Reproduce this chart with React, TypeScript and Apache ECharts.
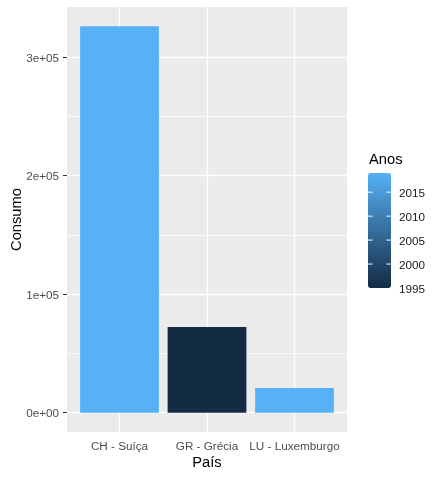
import { useEffect, useRef } from "react"
import * as echarts from "echarts"

// dados
const paises = ["CH - Suíça", "GR - Grécia", "LU - Luxemburgo"]
const consumo = [326000, 72200, 20800]
const anos = [2019, 1995, 2019]
const yTicks = [0, 100000, 200000, 300000]
const anosTicks = [1995, 2000, 2005, 2010, 2015]
const anosMin = 1995
const anosMax = 2019

const FONT = "'Liberation Sans', Arial, sans-serif"

// layout (px)
const W = 442
const H = 477
const gridLeft = 67
const gridRight = 95
const gridTop = 7
const gridBottom = 45
const cbLeft = 368
const cbTop = 173
const cbW = 23
const cbH = 115

function sci(v: number) {
    if (v === 0) return "0e+00"
    const e = Math.floor(Math.log10(Math.abs(v)))
    const m = Math.round((v / 10 ** e) * 100) / 100
    return `${m}e+${String(e).padStart(2, "0")}`
}

export default function App() {
    const chartRef = useRef<HTMLDivElement>(null)

    useEffect(() => {
        if (!chartRef.current) return
        const chart = echarts.init(chartRef.current, undefined, { renderer: "svg" })

        // expansão estilo ggplot
        const maxV = Math.max(...consumo)
        const yMin = -maxV * 0.05
        const yMax = maxV * 1.05
        const xMin = 0.4
        const xMax = paises.length + 0.6
        const xPos = paises.map((_, i) => i + 1)
        const panelW = W - gridLeft - gridRight
        const barWidth = (0.9 * panelW) / (xMax - xMin)
        const minorTicks = yTicks.slice(1).map((t, i) => (t + yTicks[i]) / 2)

        const yearToY = (a: number) => cbTop + ((anosMax - a) / (anosMax - anosMin)) * cbH

        const gridLines: any[] = [
            ...minorTicks.map((v) => ({ yAxis: v, lineStyle: { color: "#fff", width: 0.7, type: "solid" } })),
            ...yTicks.map((v) => ({ yAxis: v, lineStyle: { color: "#fff", width: 1.4, type: "solid" } })),
            ...xPos.map((v) => ({ xAxis: v, lineStyle: { color: "#fff", width: 1.4, type: "solid" } })),
        ]

        const legendGraphics: any[] = [
            {
                type: "text",
                left: cbLeft + 1,
                top: 151,
                style: { text: "Anos", font: `14.7px ${FONT}`, fill: "#000" },
            },
        ]
        anosTicks.forEach((a) => {
            const y = yearToY(a)
            if (a > anosMin && a < anosMax) {
                legendGraphics.push(
                    { type: "line", shape: { x1: cbLeft, y1: y, x2: cbLeft + 4.6, y2: y }, style: { stroke: "#fff", lineWidth: 1 }, z: 100 },
                    { type: "line", shape: { x1: cbLeft + cbW - 4.6, y1: y, x2: cbLeft + cbW, y2: y }, style: { stroke: "#fff", lineWidth: 1 }, z: 100 }
                )
            }
            legendGraphics.push({
                type: "text",
                x: cbLeft + cbW + 8,
                y: y + 0.5,
                style: { text: String(a), font: `11.7px ${FONT}`, fill: "#1a1a1a", verticalAlign: "middle" },
            })
        })

        chart.setOption({
            animation: false,
            textStyle: { fontFamily: FONT },
            grid: {
                left: gridLeft,
                right: gridRight,
                top: gridTop,
                bottom: gridBottom,
                outerBoundsMode: "none",
                containLabel: false,
                show: true,
                backgroundColor: "#EBEBEB",
                borderWidth: 0,
            },
            xAxis: {
                type: "value",
                min: xMin,
                max: xMax,
                name: "País",
                nameLocation: "middle",
                nameGap: 22,
                nameMoveOverlap: false,
                nameTextStyle: { fontSize: 14.7, color: "#000", fontFamily: FONT },
                axisLine: { show: false },
                splitLine: { show: false },
                axisTick: { show: true, customValues: xPos, length: 4, lineStyle: { color: "#333", width: 1 } },
                axisLabel: {
                    customValues: xPos,
                    formatter: (v: number) => paises[Math.round(v) - 1] ?? "",
                    color: "#4D4D4D",
                    fontSize: 11.7,
                    fontFamily: FONT,
                    margin: 7,
                },
            },
            yAxis: {
                type: "value",
                min: yMin,
                max: yMax,
                name: "Consumo",
                nameLocation: "middle",
                nameGap: 44,
                nameMoveOverlap: false,
                nameTextStyle: { fontSize: 14.7, color: "#000", fontFamily: FONT },
                axisLine: { show: false },
                splitLine: { show: false },
                axisTick: { show: true, customValues: yTicks, length: 4, lineStyle: { color: "#333", width: 1 } },
                axisLabel: {
                    customValues: yTicks,
                    formatter: (v: number) => sci(v),
                    color: "#4D4D4D",
                    fontSize: 11.7,
                    fontFamily: FONT,
                    margin: 8,
                },
            },
            visualMap: {
                type: "continuous",
                min: anosMin,
                max: anosMax,
                dimension: 2,
                seriesIndex: 1,
                calculable: false,
                hoverLink: false,
                showLabel: false,
                text: ["", ""],
                left: cbLeft,
                top: cbTop,
                itemWidth: cbW,
                itemHeight: cbH,
                padding: 0,
                inRange: { color: ["#132B43", "#56B1F7"] },
            },
            graphic: legendGraphics,
            series: [
                {
                    type: "line",
                    data: [],
                    z: 1,
                    silent: true,
                    markLine: {
                        silent: true,
                        z: 1,
                        symbol: ["none", "none"],
                        label: { show: false },
                        animation: false,
                        data: gridLines,
                    },
                },
                {
                    type: "bar",
                    z: 3,
                    barWidth,
                    encode: { x: 0, y: 1 },
                    data: paises.map((_, i) => [xPos[i], consumo[i], anos[i]]),
                },
            ],
        })

        return () => {
            chart.dispose()
        }
    }, [])

    return <div ref={chartRef} style={{ position: "fixed", left: 0, top: 0, width: W, height: H }} />
}
